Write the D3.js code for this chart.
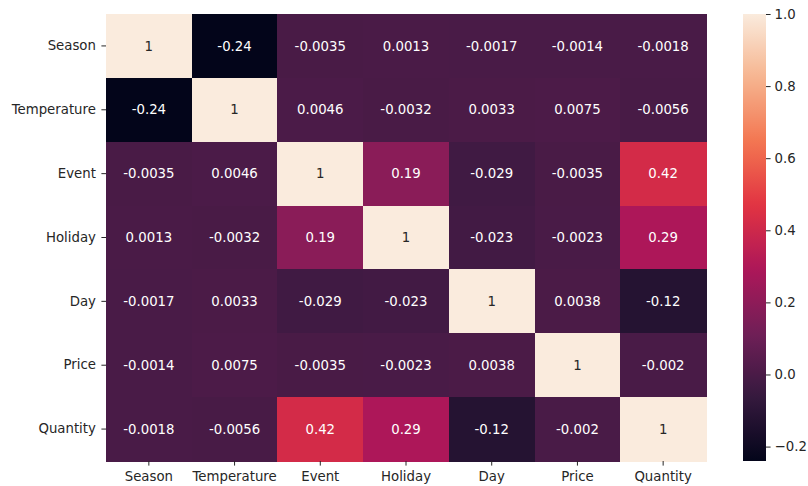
<!DOCTYPE html>
<html>
<head>
<meta charset="utf-8">
<script src="https://cdn.jsdelivr.net/npm/d3@7"></script>
<style>
  body { margin: 0; background: #fff; }
  text { font-family: "DejaVu Sans", sans-serif; }
</style>
</head>
<body>
<script>
// data
const labels = ["Season", "Temperature", "Event", "Holiday", "Day", "Price", "Quantity"];
const corr = [
    [1, -0.24, -0.0035, 0.0013, -0.0017, -0.0014, -0.0018],
    [-0.24, 1, 0.0046, -0.0032, 0.0033, 0.0075, -0.0056],
    [-0.0035, 0.0046, 1, 0.19, -0.029, -0.0035, 0.42],
    [0.0013, -0.0032, 0.19, 1, -0.023, -0.0023, 0.29],
    [-0.0017, 0.0033, -0.029, -0.023, 1, 0.0038, -0.12],
    [-0.0014, 0.0075, -0.0035, -0.0023, 0.0038, 1, -0.002],
    [-0.0018, -0.0056, 0.42, 0.29, -0.12, -0.002, 1]
];
const cbarTicks = [-0.2, 0, 0.2, 0.4, 0.6, 0.8, 1.0];

// rocket colormap stops
const rocketPos = [0, 1 / 7, 2 / 7, 3 / 7, 4 / 7, 5 / 7, 6 / 7, 1];
const rocketCol = ["#03051a", "#35193e", "#701f57", "#ad1759", "#e13342", "#f37651", "#f6b48f", "#faebdd"];

const width = 808, height = 486;
const fontSize = 13.3;
const hm = { left: 106, top: 14, right: 706, bottom: 461 };
const cb = { left: 743, right: 766, top: 14, bottom: 461 };

const vmin = d3.min(corr.flat()), vmax = d3.max(corr.flat());
const rocket = d3.scaleLinear().domain(rocketPos).range(rocketCol).interpolate(d3.interpolateRgb);
const color = v => rocket((v - vmin) / (vmax - vmin));

// annotations use a plain hyphen for minus
const fmt = d3.formatLocale({ decimal: ".", thousands: ",", grouping: [3], currency: ["", ""], minus: "-" }).format(".2~g");

let svg = d3.select("body")
    .append("svg")
    .attr("width", width)
    .attr("height", height);

let x = d3.scaleBand().domain(labels).range([hm.left, hm.right]);
let y = d3.scaleBand().domain(labels).range([hm.top, hm.bottom]);

// cells
let cells = [];
corr.forEach(function (row, i) {
    row.forEach(function (v, j) {
        cells.push({ r: labels[i], c: labels[j], v: v });
    });
});

svg.selectAll(".cell")
    .data(cells)
    .enter()
    .append("rect")
    .attr("class", "cell")
    .attr("x", d => x(d.c))
    .attr("y", d => y(d.r))
    .attr("width", x.bandwidth() + 0.6)
    .attr("height", y.bandwidth() + 0.6)
    .attr("shape-rendering", "crispEdges")
    .attr("fill", d => color(d.v));

// dark text on light cells
function lum(c) {
    let rgb = d3.rgb(c);
    let f = u => { u = u / 255; return u <= 0.03928 ? u / 12.92 : Math.pow((u + 0.055) / 1.055, 2.4); };
    return 0.2126 * f(rgb.r) + 0.7152 * f(rgb.g) + 0.0722 * f(rgb.b);
}

svg.selectAll(".annot")
    .data(cells)
    .enter()
    .append("text")
    .attr("class", "annot")
    .attr("x", d => x(d.c) + x.bandwidth() / 2)
    .attr("y", d => y(d.r) + y.bandwidth() / 2)
    .attr("dy", "0.35em")
    .attr("text-anchor", "middle")
    .style("font-size", fontSize + "px")
    .attr("fill", d => lum(color(d.v)) > 0.408 ? "#262626" : "#ffffff")
    .text(d => fmt(d.v));

// axes
let xAxis = svg.append("g")
    .attr("transform", "translate(0," + hm.bottom + ")")
    .call(d3.axisBottom(x).tickSize(4.6).tickPadding(5.5));
let yAxis = svg.append("g")
    .attr("transform", "translate(" + hm.left + ",0)")
    .call(d3.axisLeft(y).tickSize(4.6).tickPadding(5.5));

[xAxis, yAxis].forEach(function (a) {
    a.select(".domain").remove();
    a.selectAll("line").attr("stroke", "#262626").attr("stroke-width", 1);
    a.selectAll("text")
        .attr("fill", "#262626")
        .style("font-size", fontSize + "px")
        .style("font-family", "DejaVu Sans, sans-serif");
});

// colorbar
let cy = d3.scaleLinear().domain([vmin, vmax]).range([cb.bottom, cb.top]);

let defs = svg.append("defs");
let grad = defs.append("linearGradient")
    .attr("id", "cbar")
    .attr("x1", "0").attr("y1", "1")
    .attr("x2", "0").attr("y2", "0");
d3.range(0, 1.0001, 0.02).forEach(function (t) {
    grad.append("stop")
        .attr("offset", t)
        .attr("stop-color", rocket(t));
});

svg.append("rect")
    .attr("x", cb.left)
    .attr("y", cb.top)
    .attr("width", cb.right - cb.left)
    .attr("height", cb.bottom - cb.top)
    .attr("fill", "url(#cbar)");

let cAxis = svg.append("g")
    .attr("transform", "translate(" + cb.right + ",0)")
    .call(d3.axisRight(cy)
        .tickValues(cbarTicks)
        .tickSize(4.6)
        .tickPadding(4)
        .tickFormat(d => d3.format(".1f")(d)));

cAxis.select(".domain").remove();
cAxis.selectAll("line").attr("stroke", "#262626");
cAxis.selectAll("text")
    .attr("fill", "#262626")
    .style("font-size", fontSize + "px")
    .style("font-family", "DejaVu Sans, sans-serif");
</script>
</body>
</html>
